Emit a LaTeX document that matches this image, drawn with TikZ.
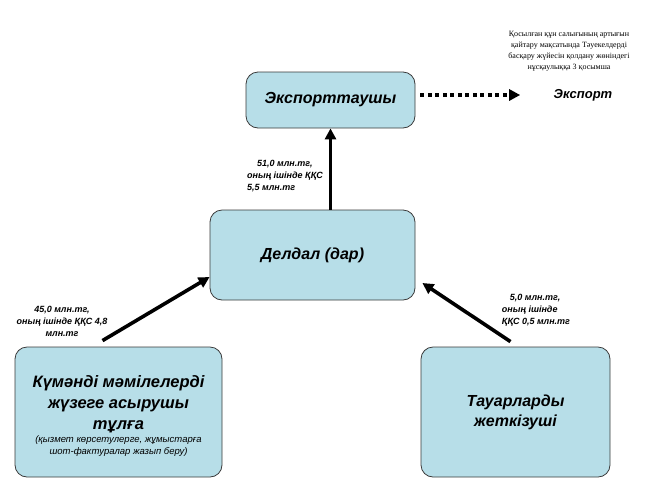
\documentclass[tikz,border=0pt]{standalone}
\usepackage{fontspec}
\setmainfont{Liberation Serif}
\setsansfont{Liberation Sans}
\usetikzlibrary{arrows.meta}
\definecolor{boxfill}{HTML}{B7DEE8}
\definecolor{boxline}{HTML}{3A3A3A}
\tikzset{
  party/.style={draw=boxline,line width=0.8pt,fill=boxfill,rounded corners=12pt,
    align=center,font=\sffamily\bfseries\itshape\fontsize{16}{20}\selectfont},
  sumtext/.style={font=\sffamily\bfseries\itshape\fontsize{9}{12}\selectfont},
  flow/.style={line width=3.6pt,-{Triangle[length=11pt,width=11pt]}}
}
\begin{document}
\begin{tikzpicture}[x=1pt,y=-1pt]
  \useasboundingbox (0,0) rectangle (653,491);
  \node[party,minimum width=169pt,minimum height=56pt] (export) at (330.5,100) {Экспорттаушы};
  \node[party,minimum width=205pt,minimum height=90pt] (deldal) at (312.5,255) {Делдал (дар)};
  \node[party,minimum width=207pt,minimum height=130pt,font=\sffamily\bfseries\itshape\fontsize{16.5}{21}\selectfont]
    (doubtful) at (118.5,412)
    {\rule{0pt}{20pt}Күмәнді мәмілелерді\\жүзеге асырушы\\тұлға\\[-8pt]
     {\fontsize{9.5}{11}\selectfont\mdseries(қызмет көрсетулерге, жұмыстарға}\\[-9pt]
     {\fontsize{9.5}{11}\selectfont\mdseries шот-фактуралар жазып беру)}};
  \node[party,minimum width=189pt,minimum height=130pt] (supplier) at (515.5,412)
    {Тауарларды\\жеткізуші};
  \node[font=\sffamily\bfseries\itshape\fontsize{13}{15}\selectfont] (abroad) at (583,95) {Экспорт};
  \node[align=center,font=\fontsize{8}{11}\selectfont] (note) at (569,51)
    {Қосылған құн салығының артығын\\қайтару мақсатында Тәуекелдерді\\басқару жүйесін қолдану жөніндегі\\нұсқаулыққа 3 қосымша};
  \node[sumtext,align=left] (sumtop) at (285,176) {\hspace*{10pt}51,0 млн.тг,\\оның ішінде ҚҚС\\5,5 млн.тг};
  \node[sumtext,align=center] (sumleft) at (62,321) {45,0 млн.тг,\\оның ішінде ҚҚС 4,8\\млн.тг};
  \node[sumtext,align=left] (sumright) at (536,310) {\hspace*{8pt}5,0 млн.тг,\\оның ішінде\\ҚҚС 0,5 млн.тг};
  \draw[flow] (deldal.north -| export.south) -- (export.south);
  \draw[flow] ([xshift=-16pt,yshift=6pt]doubtful.north) -- ([yshift=-22pt]deldal.west);
  \draw[flow] ([xshift=-5pt,yshift=5pt]supplier.north) -- ([xshift=7pt,yshift=-28pt]deldal.east);
  \draw[line width=3.6pt,dash pattern=on 4pt off 3.5pt,-{Triangle[length=11pt,width=11pt]}]
    ([xshift=5pt,yshift=5pt]export.east) -- ([xshift=-30pt]abroad.west);
\end{tikzpicture}
\end{document}
